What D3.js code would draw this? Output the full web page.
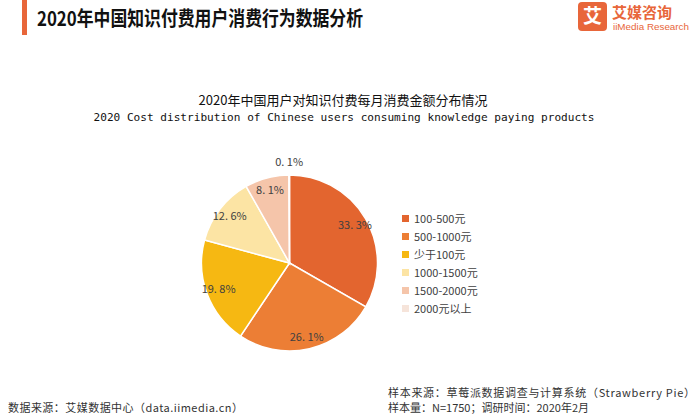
<!DOCTYPE html>
<html><head><meta charset="utf-8">
<script src="https://cdn.jsdelivr.net/npm/d3@7"></script>
<style>body{margin:0;background:#fff}svg{display:block}</style>
</head><body>
<svg id="c" width="700" height="417"></svg>
<script>
const categories = ["100-500元","500-1000元","少于100元","1000-1500元","1500-2000元","2000元以上"];
const values = [33.3, 26.1, 19.8, 12.6, 8.1, 0.1];
const colors = ["#E3652F","#EC7E35","#F6B812","#FCE4A4","#F5C5AA","#F6E4DA"];

const svg = d3.select("#c");
const cjk = "'Noto Sans CJK SC','Microsoft YaHei',sans-serif";

// header
svg.append("rect").attr("x",22).attr("y",0).attr("width",5).attr("height",35).attr("fill","#E8663A");
svg.append("text").attr("x",37).attr("y",26).attr("font-family",cjk).attr("font-size",20).attr("font-weight","bold").attr("fill","#111")
  .attr("textLength",326).attr("lengthAdjust","spacingAndGlyphs").text("2020年中国知识付费用户消费行为数据分析");
// logo
const lg = svg.append("g");
lg.append("rect").attr("x",578).attr("y",2).attr("width",29).attr("height",29).attr("rx",4).attr("fill","#E8663A");
lg.append("text").attr("x",592.5).attr("y",16.5).attr("dy","0.36em").attr("text-anchor","middle").attr("font-family",cjk).attr("font-size",19).attr("font-weight","bold").attr("fill","#fff").text("艾");
lg.append("text").attr("x",612).attr("y",18).attr("font-family",cjk).attr("font-size",15).attr("font-weight","bold").attr("fill","#E8663A").text("艾媒咨询");
lg.append("text").attr("x",613).attr("y",30).attr("font-family","'Liberation Sans',Arial,sans-serif").attr("font-size",9).attr("fill","#E8663A")
  .attr("textLength",76).attr("lengthAdjust","spacingAndGlyphs").text("iiMedia Research");

// chart titles
svg.append("text").attr("x",343).attr("y",105).attr("text-anchor","middle").attr("font-family",cjk).attr("font-size",13).attr("fill","#111").text("2020年中国用户对知识付费每月消费金额分布情况");
svg.append("text").attr("x",344).attr("y",121).attr("text-anchor","middle").attr("font-family","'DejaVu Sans Mono','Liberation Mono',monospace").attr("font-size",11.1).attr("fill","#111").text("2020 Cost distribution of Chinese users consuming knowledge paying products");

// pie
const cx = 289.5, cy = 263, r = 88;
const pie = d3.pie().sort(null).value(d=>d.v);
const data = pie(categories.map((c,i)=>({c, v: values[i], col: colors[i]})));
const arc = d3.arc().innerRadius(0).outerRadius(r);
const g = svg.append("g").attr("transform",`translate(${cx},${cy})`);
g.selectAll("path").data(data).join("path").attr("d",arc).attr("fill",d=>d.data.col).attr("stroke","#fff").attr("stroke-width",1.5);
const labArc = d3.arc().innerRadius(r*0.86).outerRadius(r*0.86);
const outArc = d3.arc().innerRadius(r+13).outerRadius(r+13);
g.selectAll("text").data(data).join("text")
  .attr("transform",(d,i)=>`translate(${(i===5?outArc:labArc).centroid(d)})`)
  .attr("text-anchor","middle").attr("dy","0.35em")
  .attr("font-family",cjk).attr("font-size",11).attr("fill","#404040")
  .text(d=>d.data.v.toFixed(1).replace(".", ". ")+"%");

// legend
const lgd = svg.append("g");
categories.forEach((c,i)=>{
  const y = 219 + i*18;
  lgd.append("rect").attr("x",402).attr("y",y-4).attr("width",7).attr("height",7).attr("fill",colors[i]);
  lgd.append("text").attr("x",414).attr("y",y).attr("dy","0.35em").attr("font-family",cjk).attr("font-size",11).attr("fill","#404040").text(c);
});

// footer
svg.append("text").attr("x",8).attr("y",412).attr("font-family",cjk).attr("font-size",11).attr("fill","#333")
  .attr("textLength",235).attr("lengthAdjust","spacing").text("数据来源：艾媒数据中心（data.iimedia.cn）");
svg.append("text").attr("x",388).attr("y",397).attr("font-family",cjk).attr("font-size",11).attr("fill","#333")
  .attr("textLength",307).attr("lengthAdjust","spacing").text("样本来源：草莓派数据调查与计算系统（Strawberry Pie）");
svg.append("text").attr("x",388).attr("y",412).attr("font-family",cjk).attr("font-size",11).attr("fill","#333").text("样本量：N=1750；调研时间：2020年2月");
</script>
</body></html>
